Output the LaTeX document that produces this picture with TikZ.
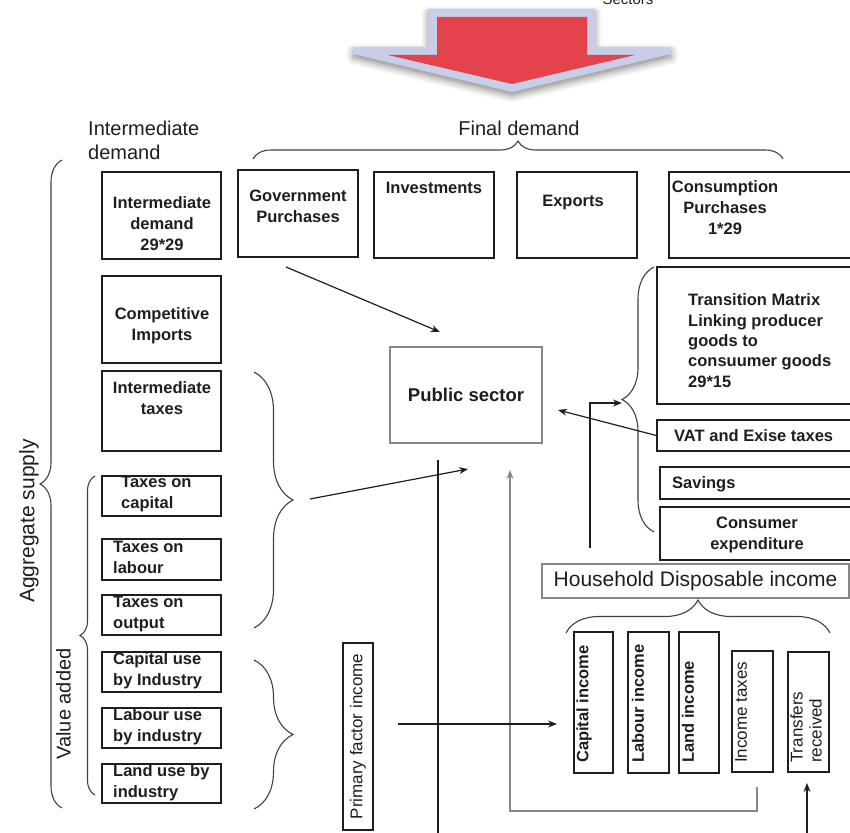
\documentclass[tikz,border=0pt]{standalone}
\usepackage{fontspec}
\setmainfont{Liberation Sans}
\usepackage{tikz}
\usetikzlibrary{arrows.meta, decorations.pathreplacing, shadows.blur}
\definecolor{ink}{RGB}{30,30,30}
\definecolor{soft}{RGB}{135,135,135}
\definecolor{flowred}{RGB}{229,67,75}
\definecolor{flowrim}{RGB}{200,205,232}
\tikzset{
  cell/.style={rectangle, draw=ink, line width=1.4pt, inner sep=0pt},
  softcell/.style={cell, draw=soft},
  celltext/.style={inner sep=0pt, align=center, text=ink,
    font=\fontsize{16.5}{21}\selectfont\bfseries},
  lefttext/.style={celltext, align=left, anchor=west},
  uptext/.style={celltext, rotate=90, anchor=west},
  headtext/.style={inner sep=0pt, text=ink, font=\fontsize{20}{24}\selectfont},
  curly/.style={decorate, decoration={brace, amplitude=#1}, draw=ink!85, line width=1.1pt},
  arrow/.style={line width=1.2pt, draw=ink, -{Stealth[length=9pt,width=7pt]}},
  flowline/.style={line width=1.2pt, draw=ink},
}

\begin{document}
\begin{tikzpicture}[x=1pt, y=-1pt]
  \useasboundingbox (0,0) rectangle (850,832);
  \clip (0,0) rectangle (850,832);

  % big arrow on top
  \fill[flowrim, blur shadow={shadow xshift=0pt, shadow yshift=-4pt, shadow blur radius=7pt, shadow opacity=45}]
    (428,9) -- (595,9) -- (595,47) -- (671,47) -- (671,54) -- (512,92)
    -- (353,54) -- (353,47) -- (428,47) -- cycle;
  \fill[flowred] (437,17) -- (587,17) -- (587,55) -- (635,55) -- (512,84)
    -- (388,55) -- (437,55) -- cycle;
  \node[anchor=base, inner sep=0pt, text=ink, font=\fontsize{15}{18}\selectfont] (sectors) at (628,5) {Sectors};

  % headings
  \node[headtext, align=left, anchor=west] (idhead) at (88,140) {Intermediate\\demand};
  \node[headtext] (fdhead) at (519,128) {Final demand};
  \node[headtext, font=\fontsize{21}{25}\selectfont, rotate=90] (ashead) at (29,521) {Aggregate supply};
  \node[headtext, rotate=90] (vahead) at (63.5,704) {Value added};

  % demand row
  \node[cell, minimum width=119, minimum height=87] (idem) at (161.5,215.5) {};
  \node[cell, minimum width=120, minimum height=87] (govp) at (298,213.5) {};
  \node[cell, minimum width=120, minimum height=86] (invs) at (434,215) {};
  \node[cell, minimum width=120, minimum height=86] (expo) at (577,215) {};
  \node[cell, minimum width=186, minimum height=86] (cons) at (762,215) {};
  \node[celltext] (idemtxt) at (162,224) {Intermediate\\demand\\29*29};
  \node[celltext] (govptxt) at (298,206) {Government\\Purchases};
  \node[celltext] (invstxt) at (434,188) {Investments};
  \node[celltext] (expotxt) at (573,203) {Exports};
  \node[celltext] (constxt) at (725,208) {Consumption\\Purchases\\1*29};

  % supply column
  \node[cell, minimum width=119, minimum height=87] (cimp) at (161.5,319.5) {};
  \node[cell, minimum width=119, minimum height=80] (itax) at (161.5,411) {};
  \node[cell, minimum width=119, minimum height=40] (tcap) at (161.5,496) {};
  \node[cell, minimum width=119, minimum height=41] (tlab) at (161.5,559.5) {};
  \node[cell, minimum width=119, minimum height=40] (tout) at (161.5,615) {};
  \node[cell, minimum width=119, minimum height=40] (kuse) at (161.5,672) {};
  \node[cell, minimum width=119, minimum height=40] (luse) at (161.5,728) {};
  \node[cell, minimum width=119, minimum height=39] (duse) at (161.5,783.5) {};
  \node[celltext] (cimptxt) at (162,326) {Competitive\\Imports};
  \node[celltext] (itaxtxt) at (162,398) {Intermediate\\taxes};
  \node[lefttext] (tcaptxt) at (121,494.5) {Taxes on\\capital};
  \node[lefttext] (tlabtxt) at (113,557.5) {Taxes on\\labour};
  \node[lefttext] (touttxt) at (113,614) {Taxes on\\output};
  \node[lefttext] (kusetxt) at (113,670.5) {Capital use\\by Industry};
  \node[lefttext] (lusetxt) at (113,726.5) {Labour use\\by industry};
  \node[lefttext] (dusetxt) at (113,782.5) {Land use by\\industry};

  % public sector and households
  \node[softcell, minimum width=152, minimum height=96, celltext, font=\fontsize{18.5}{22}\selectfont\bfseries] (pub) at (466,395) {Public sector};
  \node[cell, minimum width=198, minimum height=137] (trm) at (756,335.5) {};
  \node[cell, minimum width=198, minimum height=31] (vat) at (756,435.5) {};
  \node[cell, minimum width=195, minimum height=32] (sav) at (757.5,483) {};
  \node[cell, minimum width=195, minimum height=53] (cexp) at (757.5,533.5) {};
  \node[lefttext, font=\fontsize{16.5}{20.3}\selectfont\bfseries] (trmtxt) at (688,340.5)
    {Transition Matrix\\Linking producer\\goods to\\consuumer goods\\29*15};
  \node[lefttext] (vattxt) at (674,436) {VAT and Exise taxes};
  \node[lefttext] (savtxt) at (672,484) {Savings};
  \node[celltext] (cexptxt) at (757,535) {Consumer\\expenditure};
  \node[softcell, minimum width=307, minimum height=34, text=ink, font=\fontsize{21}{25}\selectfont] (hdi) at (695.5,581) {Household Disposable income};

  % income boxes
  \node[cell, minimum width=39, minimum height=141] (kinc) at (593.5,702.5) {};
  \node[cell, minimum width=41, minimum height=141] (linc) at (648.5,702.5) {};
  \node[cell, minimum width=40, minimum height=141] (dinc) at (699,702.5) {};
  \node[cell, minimum width=41, minimum height=121] (itx) at (752.5,711.5) {};
  \node[cell, minimum width=41, minimum height=120] (trf) at (808.5,712) {};
  \node[uptext] (kinctxt) at (584,763) {Capital income};
  \node[uptext] (linctxt) at (638,763) {Labour income};
  \node[uptext] (dinctxt) at (688,763) {Land income};
  \node[uptext, font=\fontsize{17}{20}\selectfont] (itxtxt) at (741,763) {Income taxes};
  \node[uptext, align=left, font=\fontsize{17}{19}\selectfont] (trftxt) at (806,763) {Transfers\\received};
  \node[cell, rotate=90, minimum width=187, minimum height=30, text=ink, font=\fontsize{17}{20}\selectfont] (pfi) at (358,736.5) {Primary factor income};

  % braces
  \draw[curly=18] (253,159) -- (783,159);
  \draw[curly=22] (62,808) -- (62,160);
  \draw[curly=15] (95,795) -- (95,476);
  \draw[curly=39] (254,372) -- (254,628);
  \draw[curly=39] (254,660) -- (254,809);
  \draw[curly=32] (654,532) -- (654,267);
  \draw[curly=33] (566,633) -- (830,633);

  % flows
  \coordinate (govout) at (286,267);
  \coordinate (pubtop) at (440,332);
  \coordinate (taxtip) at (310,499);
  \coordinate (pubin) at (468,469);
  \coordinate (vatin) at (558,410);
  \coordinate (hdiup) at (590,548);
  \coordinate (trmtip) at (622,403);
  \coordinate (pubdown) at (438,460);
  \coordinate (pubfoot) at (438,840);
  \coordinate (itxfoot) at (757,787);
  \coordinate (pubret) at (510,470);
  \coordinate (pfiout) at (398,724);
  \coordinate (kincin) at (557,724);
  \coordinate (trffoot) at (807,840);
  \coordinate (trfin) at (807,783);

  \draw[arrow] (govout) -- (pubtop);
  \draw[arrow] (taxtip) -- (pubin);
  \draw[arrow] (vat.west) -- (vatin);
  \draw[arrow] (hdiup) |- (trmtip);
  \draw[flowline] (pubdown) -- (pubfoot);
  \draw[arrow, draw=soft] (itxfoot) -- ++(0,24) -| (pubret);
  \draw[arrow] (pfiout) -- (kincin);
  \draw[arrow] (trffoot) -- (trfin);
\end{tikzpicture}
\end{document}
